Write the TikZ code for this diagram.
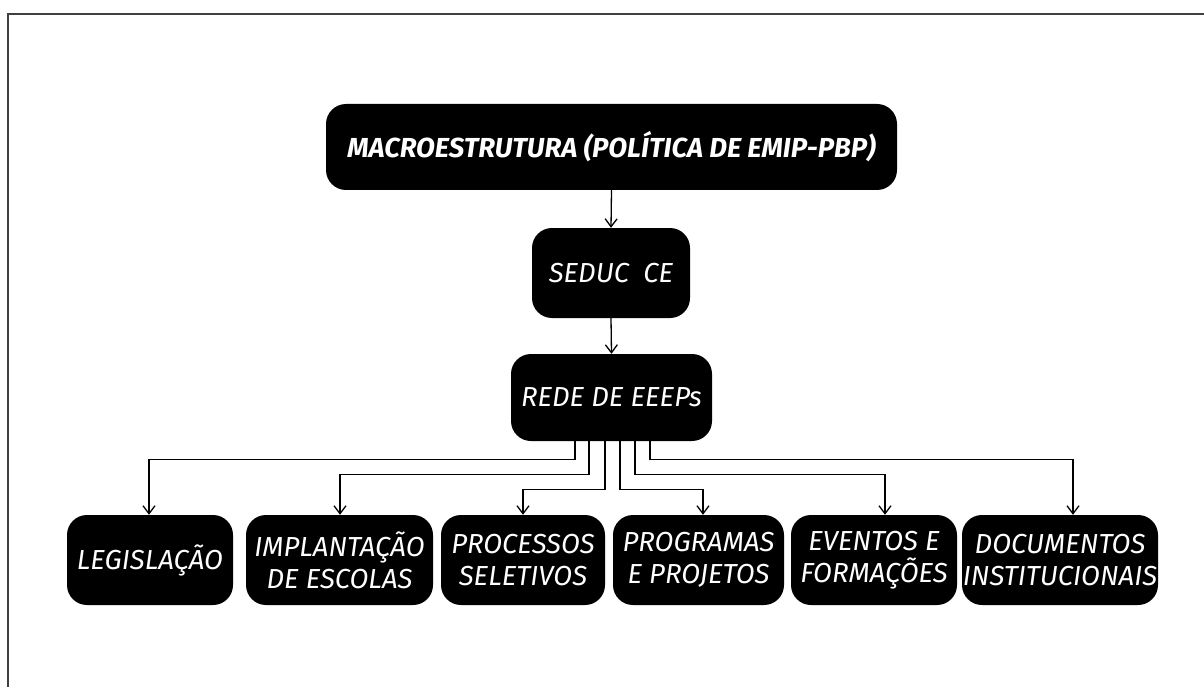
\documentclass[tikz,border=0pt]{standalone}
\usepackage{fontspec}
\setmainfont{Fira Sans}
\usetikzlibrary{arrows.meta}
\begin{document}
\begin{tikzpicture}[x=1pt,y=-1pt,
  box/.style={draw=none,fill=black,rounded corners=20pt,text=white,align=center,
    font=\fontsize{27.5}{32}\selectfont\itshape,inner sep=0pt},
  arr/.style={draw=black,line width=1.3pt,-{Straight Barb[length=8pt,width=12pt,line width=1.3pt]}},
  frame/.style={draw=black!75,line width=1.5pt}]
\useasboundingbox (0,0) rectangle (1204,687);
\draw[frame] (8,687) -- (8,14) -- (1204,14);
\node[box,minimum width=571pt,minimum height=86pt,font=\fontsize{27.5}{32}\selectfont\bfseries\itshape] (macro) at (611.5,147) {MACROESTRUTURA (POLÍTICA DE EMIP-PBP)};
\node[box,minimum width=158pt,minimum height=90pt] (seduc) at (611,273) {SEDUC\ \ CE};
\node[box,minimum width=201pt,minimum height=87pt] (rede) at (611.5,397.5) {REDE DE EEEPs};
\node[box,minimum width=166pt,minimum height=90pt] (L) at (150,560) {LEGISLAÇÃO};
\node[box,minimum width=187pt,minimum height=90pt] (I) at (339.5,560) {IMPLANTAÇÃO\\DE ESCOLAS};
\node[box,minimum width=164pt,minimum height=90pt] (P) at (523,560) {PROCESSOS\\SELETIVOS};
\node[box,minimum width=171pt,minimum height=90pt] (G) at (698.5,560) {PROGRAMAS\\E PROJETOS};
\node[box,minimum width=166pt,minimum height=90pt] (E) at (874,560) {EVENTOS E\\FORMAÇÕES};
\node[box,minimum width=196pt,minimum height=90pt] (D) at (1060,560) {DOCUMENTOS\\INSTITUCIONAIS};
\draw[arr] (macro.south) -- (seduc.north);
\draw[arr] (seduc.south) -- (rede.north);
\coordinate (sL) at (575,441);
\coordinate (sI) at (589,441);
\coordinate (sP) at (605,441);
\coordinate (sG) at (620,441);
\coordinate (sE) at (635,441);
\coordinate (sD) at (650,441);
\draw[arr] (sL) |- ([xshift=-1pt,yshift=55pt]L.north) -- ([xshift=-1pt]L.north);
\draw[arr] (sI) |- ([xshift=0.5pt,yshift=40pt]I.north) -- ([xshift=0.5pt]I.north);
\draw[arr] (sP) |- ([yshift=25pt]P.north) -- (P.north);
\draw[arr] (sG) |- ([xshift=4.5pt,yshift=25pt]G.north) -- ([xshift=4.5pt]G.north);
\draw[arr] (sE) |- ([xshift=11pt,yshift=40pt]E.north) -- ([xshift=11pt]E.north);
\draw[arr] (sD) |- ([xshift=13pt,yshift=55pt]D.north) -- ([xshift=13pt]D.north);
\end{tikzpicture}
\end{document}
